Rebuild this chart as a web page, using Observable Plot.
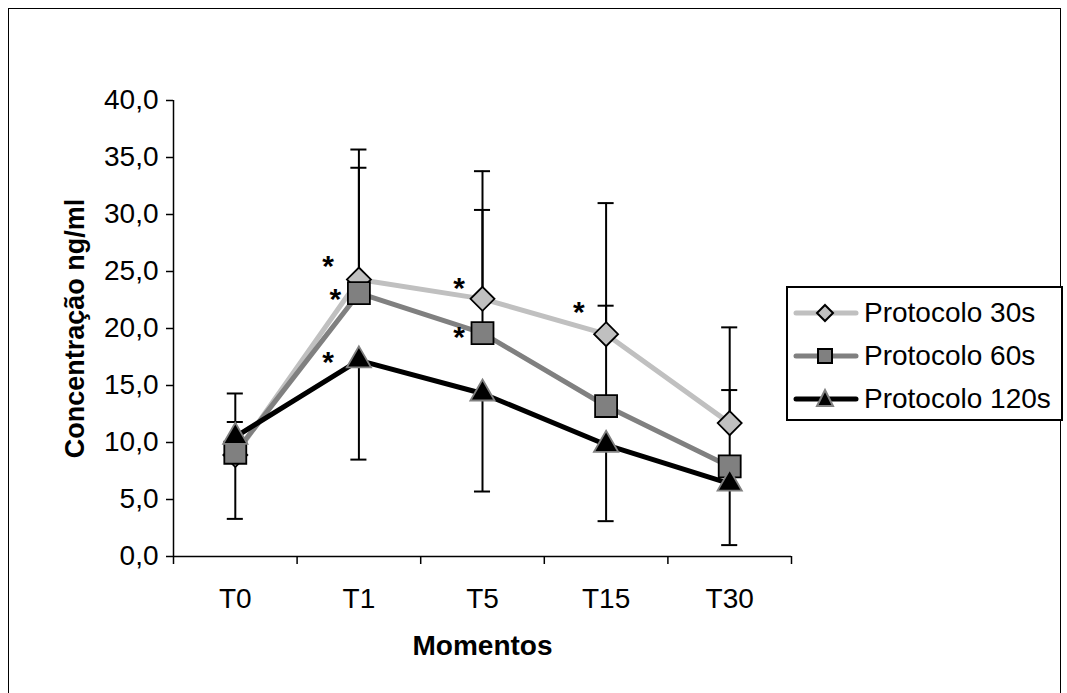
<!DOCTYPE html>
<html><head><meta charset="utf-8">
<script src="https://cdn.jsdelivr.net/npm/d3@7"></script>
<script src="https://cdn.jsdelivr.net/npm/@observablehq/plot@0.6"></script>
<style>
html,body{margin:0;padding:0;background:#fff;overflow:hidden;}
#wrap{position:relative;width:1067px;height:693px;font-family:"Liberation Sans",Arial,sans-serif;}
#border{position:absolute;left:8px;top:8px;width:1053px;height:720px;border:1.5px solid #000;box-sizing:border-box;}
#chart{position:absolute;left:0;top:0;}
#legend{position:absolute;left:786px;top:286px;width:277px;height:135px;border:2px solid #000;box-sizing:border-box;background:#fff;}
.row{position:absolute;left:0;height:34px;display:flex;align-items:center;font-size:28px;color:#000;white-space:nowrap;}
.row svg{margin-left:5px;margin-right:5px;}
</style></head><body>
<div id="wrap"><div id="border"></div><div id="chart"></div><div id="legend"></div></div>
<script>
const categories = ["T0", "T1", "T5", "T15", "T30"];
const seriesNames = ["Protocolo 30s", "Protocolo 60s", "Protocolo 120s"];
const p30 = [8.9, 24.3, 22.6, 19.5, 11.7];
const p60 = [9.1, 23.1, 19.6, 13.2, 7.9];
const p120 = [10.5, 17.2, 14.3, 9.8, 6.4];
const p30Upper = [14.3, 35.7, 33.8, 31.0, 20.1];
const p60Upper = [11.8, 34.1, 30.4, 22.0, 14.6];
const p120Lower = [3.3, 8.5, 5.7, 3.1, 1.0];
const yTicks = [0, 5, 10, 15, 20, 25, 30, 35, 40];
// significance asterisks: position along category axis (index units) and value
const starX = [1.25, 1.31, 1.25, 2.31, 2.31, 3.28];
const starY = [26.1, 23.2, 17.6, 24.1, 19.8, 22.0];

const colors = ["#c0c0c0", "#808080", "#000000"];
const values = [p30, p60, p120];
const rows = [];
values.forEach((arr, k) => arr.forEach((v, i) => rows.push({series: seriesNames[k], k, x: i + 0.5, y: v})));
const errs = [];
categories.forEach((c, i) => {
  errs.push({x: i + 0.5, y1: p30[i], y2: p30Upper[i]});
  errs.push({x: i + 0.5, y1: p60[i], y2: p60Upper[i]});
  errs.push({x: i + 0.5, y1: p120[i], y2: p120Lower[i]});
});
const stars = starX.map((x, i) => ({x, y: starY[i]}));
const fmt = d => d.toFixed(1).replace(".", ",");

const byS = k => rows.filter(r => r.k === k);
const capW = 0.065;

const plot = Plot.plot({
  width: 1067, height: 693,
  marginLeft: 173, marginRight: 276, marginTop: 100, marginBottom: 137,
  style: {fontFamily: '"Liberation Sans", Arial, sans-serif', fontSize: "28px", background: "transparent", color: "#000"},
  x: {domain: [0, 5], axis: null},
  y: {domain: [0, 40], axis: null},
  marks: [
    Plot.axisY({ticks: yTicks, tickFormat: fmt, tickSize: 7, tickPadding: 8, label: null, fontSize: 28, strokeWidth: 1.5}),
    Plot.axisX({ticks: [0, 1, 2, 3, 4, 5], tickFormat: () => "", tickSize: 8, label: null, strokeWidth: 1.5}),
    Plot.axisX({ticks: categories.map((c, i) => i + 0.5), tickFormat: d => categories[Math.floor(d)], tickSize: 0, tickPadding: 32, label: null, fontSize: 28}),
    Plot.ruleX([0], {stroke: "#000", strokeWidth: 1.5}),
    Plot.ruleY([0], {stroke: "#000", strokeWidth: 1.5}),
    Plot.text(["Concentração ng/ml"], {frameAnchor: "left", textAnchor: "middle", rotate: -90, dx: -98, fontWeight: "bold", fontSize: 27}),
    Plot.text(["Momentos"], {frameAnchor: "bottom", dy: 98, fontWeight: "bold", fontSize: 28}),
    Plot.ruleX(errs, {x: "x", y1: "y1", y2: "y2", stroke: "#000", strokeWidth: 2}),
    Plot.ruleY(errs, {y: "y2", x1: d => d.x - capW, x2: d => d.x + capW, stroke: "#000", strokeWidth: 2}),
    Plot.line(byS(0), {x: "x", y: "y", stroke: colors[0], strokeWidth: 5}),
    Plot.dot(byS(0), {x: "x", y: "y", symbol: "diamond2", r: 10.8, fill: "#c0c0c0", stroke: "#000", strokeWidth: 1.8}),
    Plot.line(byS(1), {x: "x", y: "y", stroke: colors[1], strokeWidth: 5}),
    Plot.dot(byS(1), {x: "x", y: "y", symbol: "square", r: 12.4, fill: "#808080", stroke: "#000", strokeWidth: 1.8}),
    Plot.line(byS(2), {x: "x", y: "y", stroke: colors[2], strokeWidth: 5}),
    Plot.dot(byS(2), {x: "x", y: "y", symbol: "triangle", r: 9, fill: "#000", stroke: "#808080", strokeWidth: 1.8}),
    Plot.text(stars, {x: "x", y: "y", text: () => "*", fontSize: 30, fontWeight: "bold", dy: 7})
  ]
});
document.getElementById("chart").appendChild(plot);

// legend
const leg = document.getElementById("legend");
const rowTops = [8, 51, 94];
seriesNames.forEach((name, k) => {
  const div = document.createElement("div");
  div.className = "row";
  div.style.top = rowTops[k] + "px";
  let marker = "";
  if (k === 0) marker = `<path d="M32,9 L40,17 L32,25 L24,17 Z" fill="#c0c0c0" stroke="#000" stroke-width="2"/>`;
  if (k === 1) marker = `<rect x="25" y="10" width="14" height="14" fill="#808080" stroke="#000" stroke-width="2"/>`;
  if (k === 2) marker = `<path d="M32,8 L40,24 L24,24 Z" fill="#000" stroke="#808080" stroke-width="2"/>`;
  div.innerHTML = `<svg width="66" height="34"><line x1="3" y1="17" x2="63" y2="17" stroke="${colors[k]}" stroke-width="5" stroke-linecap="round"/>${marker}</svg><span>${name}</span>`;
  leg.appendChild(div);
});
</script>
</body></html>
